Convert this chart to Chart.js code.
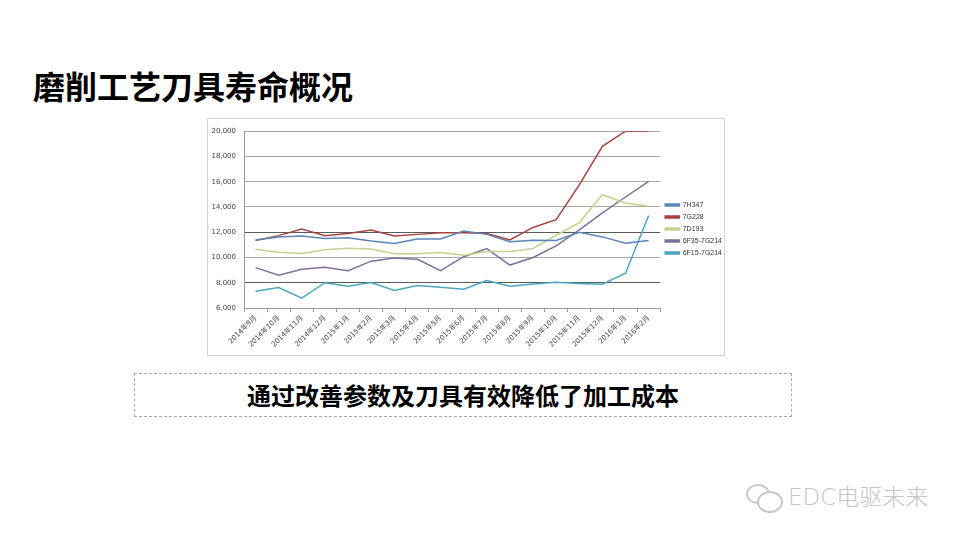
<!DOCTYPE html>
<html>
<head>
<meta charset="utf-8">
<script src="https://cdn.jsdelivr.net/npm/chart.js@4.4.1/dist/chart.umd.min.js"></script>
<style>
  body { margin: 0; width: 960px; height: 540px; background: #fff; position: relative; overflow: hidden; font-family: "Noto Sans CJK SC", sans-serif; }
  #titulo { position: absolute; left: 33px; top: 68px; font-size: 32px; line-height: 34px; font-weight: bold; color: #000; }
  #caixa_grafico { position: absolute; left: 207px; top: 118px; width: 516px; height: 236px; border: 1px solid #d4d4d4; background: #fff; }
  #conclusao { position: absolute; left: 134px; top: 373px; width: 656px; height: 42px; border: 1px dashed #aaa; text-align: center; font-size: 24px; line-height: 42px; font-weight: bold; color: #000; }
  #marca { position: absolute; left: 788px; top: 483px; font-size: 23px; line-height: 28px; color: #c4c4c4; font-family: "DejaVu Sans", "Noto Sans CJK SC", sans-serif; font-weight: 300; }
  .bolha { position: absolute; border: 2px solid #c8c8c8; border-radius: 50%; background: transparent; }
</style>
</head>
<body>
<div id="titulo">磨削工艺刀具寿命概况</div>

<div id="caixa_grafico">
  <canvas id="graficoLinha" width="516" height="236"></canvas>
</div>

<div id="conclusao">通过改善参数及刀具有效降低了加工成本</div>

<div class="bolha" style="left:746px; top:484px; width:20px; height:16px;"></div>
<div class="bolha" style="left:757px; top:491px; width:22px; height:18px; background:#fff;"></div>
<div id="marca">EDC电驱未来</div>

<script>
// Meses do eixo X
var meses = ['2014年9月', '2014年10月', '2014年11月', '2014年12月', '2015年1月', '2015年2月',
    '2015年3月', '2015年4月', '2015年5月', '2015年6月', '2015年7月', '2015年8月',
    '2015年9月', '2015年10月', '2015年11月', '2015年12月', '2016年1月', '2016年2月']

// Vida útil de cada ferramenta
var vida_7H347 = [11390, 11630, 11710, 11500, 11570, 11310, 11100, 11470, 11470, 12100, 11830, 11240, 11360, 11350, 12000, 11630, 11130, 11340]
var vida_7G228 = [11350, 11730, 12250, 11730, 11900, 12180, 11710, 11830, 11960, 11960, 11890, 11390, 12380, 12990, 15750, 18800, 20000, 20000]
var vida_7D193 = [10650, 10410, 10310, 10620, 10740, 10680, 10290, 10290, 10390, 10170, 10480, 10480, 10710, 11760, 12750, 14970, 14320, 14060]
var vida_6F35 = [9200, 8590, 9070, 9230, 8950, 9710, 9960, 9860, 8950, 10060, 10710, 9400, 10000, 10920, 12180, 13540, 14790, 16020]
var vida_6F15 = [7330, 7620, 6780, 8000, 7730, 8010, 7380, 7780, 7650, 7490, 8170, 7730, 7910, 8040, 7940, 7880, 8750, 13330]

var ticks_y = [6000, 8000, 10000, 12000, 14000, 16000, 18000, 20000]

var fonteEixo = { family: "'DejaVu Sans', 'Noto Sans CJK SC'", size: 7 }

function serie(nome, dados, cor) {
    return {
        label: nome,
        data: dados,
        borderColor: cor,
        backgroundColor: cor,
        borderWidth: 1.5,
        pointRadius: 0,
        tension: 0
    }
}

// Sobe um pouco a legenda depois do layout (como no Excel)
const moverLegenda = {
    id: 'moverLegenda',
    afterLayout(chart) {
        var leg = chart.legend
        leg.top -= 13
        leg.bottom -= 13
    }
}

const ctxLinha = document.getElementById('graficoLinha').getContext('2d');
const graficoLinha = new Chart(ctxLinha, {
    type: 'line',
    data: {
        labels: meses,
        datasets: [
            serie('7H347', vida_7H347, '#5a85b8'),
            serie('7G228', vida_7G228, '#a8423f'),
            serie('7D193', vida_7D193, '#c3d28c'),
            serie('6F35-7G214', vida_6F35, '#7e6f9e'),
            serie('6F15-7G214', vida_6F15, '#4aa6bf')
        ]
    },
    plugins: [moverLegenda],
    options: {
        responsive: false,
        animation: false,
        layout: { padding: { top: 10, bottom: 0, right: -8, left: 0 } },
        plugins: {
            legend: {
                position: 'right',
                labels: {
                    boxWidth: 14,
                    boxHeight: 2,
                    padding: 5,
                    color: '#333',
                    font: { family: "'Liberation Sans'", size: 7 }
                }
            },
            tooltip: { enabled: false }
        },
        scales: {
            x: {
                offset: true,
                afterFit: (escala) => { escala.height = 47 },
                grid: { offset: true, drawOnChartArea: false, tickLength: 4, color: '#999' },
                border: { color: '#999' },
                ticks: {
                    minRotation: 45,
                    maxRotation: 45,
                    autoSkip: false,
                    padding: 2,
                    color: '#444',
                    font: fonteEixo
                }
            },
            y: {
                min: 6000,
                max: 20000,
                afterFit: (escala) => { escala.width = 36 },
                afterBuildTicks: (escala) => { escala.ticks = ticks_y.map(v => ({ value: v })) },
                grid: {
                    drawTicks: false,
                    color: (c) => (c.tick && (c.tick.value == 12000 || c.tick.value == 8000)) ? '#5a5a5a' : '#a8a8a8',
                    lineWidth: 1
                },
                border: { color: '#999' },
                ticks: {
                    padding: 8,
                    color: '#444',
                    font: fonteEixo,
                    callback: (v) => v.toLocaleString('en-US')
                }
            }
        }
    }
});
</script>
</body>
</html>
